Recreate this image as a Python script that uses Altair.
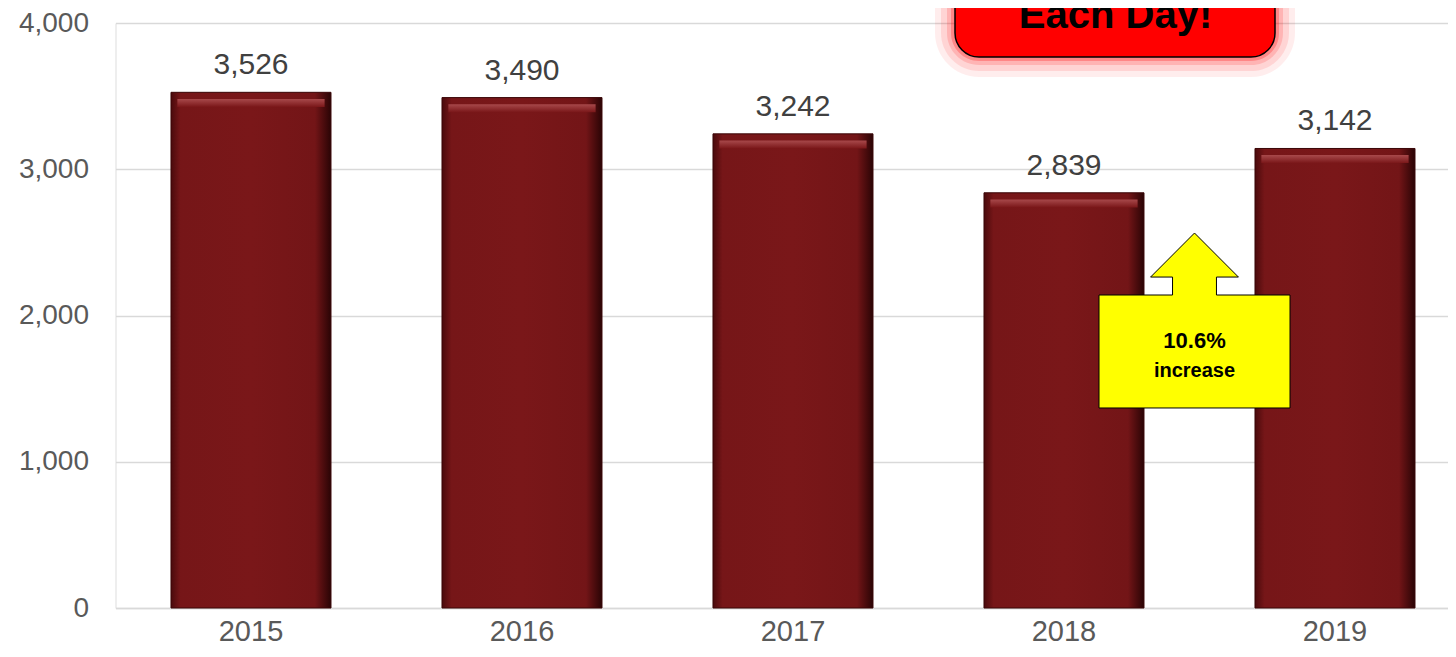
import altair as alt
import pandas as pd

# ---- data ----
years = ["2015", "2016", "2017", "2018", "2019"]
counts = [3526, 3490, 3242, 2839, 3142]
y_ticks = [0, 1000, 2000, 3000, 4000]
banner_text = ["Each Day!"]
callout_lines = ["10.6%", "increase"]

df = pd.DataFrame({"year": years, "count": counts})
FONT = "Liberation Sans"
LABEL_GRAY = "#595959"

# plot area origin in page pixels (svg sits at page offset 8,8)
PX0, PY0 = 115.5, 23

x_scale = alt.Scale(paddingInner=0.4096, paddingOuter=0.1633, align=0.627)
x_enc = alt.X("year:N", sort=years, scale=x_scale,
              axis=alt.Axis(title=None, labelAngle=0, ticks=False, domain=True,
                            domainColor="#d9d9d9", domainWidth=1.5,
                            labelFont=FONT, labelFontSize=29, labelColor=LABEL_GRAY,
                            labelPadding=9, grid=False))
y_enc = alt.Y("count:Q", scale=alt.Scale(domain=[0, 4000], nice=False),
              axis=alt.Axis(title=None, values=y_ticks, format=",.0f", ticks=False,
                            domain=False, grid=True, gridColor="#d9d9d9",
                            gridWidth=1.5, labelFont=FONT, labelFontSize=28,
                            labelColor=LABEL_GRAY, labelPadding=27))

bar_fill = alt.Gradient(
    gradient="linear", x1=0, x2=1, y1=0, y2=0,
    stops=[alt.GradientStop(color="#4a0a0c", offset=0),
           alt.GradientStop(color="#761618", offset=0.06),
           alt.GradientStop(color="#7a1719", offset=0.5),
           alt.GradientStop(color="#731517", offset=0.9),
           alt.GradientStop(color="#2a0405", offset=1)])

bars = alt.Chart(df).mark_bar(color=bar_fill, stroke="#3a0607", strokeWidth=1).encode(
    x=x_enc, y=y_enc)

hl_fill = alt.Gradient(
    gradient="linear", x1=0, x2=0, y1=0, y2=1,
    stops=[alt.GradientStop(color="#a8494b", offset=0),
           alt.GradientStop(color="#7a1719", offset=1)])
bevel = alt.Chart(df).transform_calculate(
    top="datum.count - 45", bot="datum.count - 100"
).mark_bar(color=hl_fill, width={"band": 0.92}).encode(
    x=alt.X("year:N", sort=years), y="top:Q", y2="bot:Q")

labels = alt.Chart(df).mark_text(font=FONT, fontSize=30, color="#404040",
                                 baseline="alphabetic", dy=-18).encode(
    x=alt.X("year:N", sort=years), y="count:Q", text=alt.Text("count:Q", format=","))

one = pd.DataFrame({"t": banner_text})

glow_layers = []
for pad, op in [(20, 0.07), (14, 0.10), (8, 0.15), (4, 0.25)]:
    glow_layers.append(
        alt.Chart(one).mark_rect(color="#ff0000", opacity=op, cornerRadius=24 + pad).encode(
            x=alt.value(955 - PX0 - pad), x2=alt.value(1275 - PX0 + pad),
            y=alt.value(-60), y2=alt.value(57 - PY0 + pad)))

red_box = alt.Chart(one).mark_rect(color="#ff0000", stroke="#000000", strokeWidth=1.5,
                                   cornerRadius=24).encode(
    x=alt.value(955 - PX0), x2=alt.value(1275 - PX0), y=alt.value(-60),
    y2=alt.value(57 - PY0))

red_text = alt.Chart(one).mark_text(font=FONT, fontSize=40, fontWeight="bold",
                                    color="#000000", baseline="alphabetic").encode(
    x=alt.value(1115.5 - PX0), y=alt.value(28 - PY0), text="t:N")

arrow_path = ("M -1 -0.267 L -0.23 -0.267 L -0.23 -0.455 L -0.46 -0.455 L 0 -0.916 "
              "L 0.46 -0.455 L 0.23 -0.455 L 0.23 -0.267 L 1 -0.267 L 1 0.916 "
              "L -1 0.916 Z")
callout = alt.Chart(one).mark_point(shape=arrow_path, filled=True, fill="#ffff00",
                                    stroke="#000000", strokeWidth=1, opacity=1,
                                    size=191 * 191).encode(
    x=alt.value(1194.5 - PX0), y=alt.value(320.5 - PY0))

ct = pd.DataFrame({"t": callout_lines})
callout_text1 = alt.Chart(ct.iloc[[0]]).mark_text(
    font=FONT, fontSize=22, fontWeight="bold", color="#000000", baseline="alphabetic").encode(
    x=alt.value(1194.5 - PX0), y=alt.value(347.7 - PY0), text="t:N")
callout_text2 = alt.Chart(ct.iloc[[1]]).mark_text(
    font=FONT, fontSize=20, fontWeight="bold", color="#000000", baseline="alphabetic").encode(
    x=alt.value(1194.5 - PX0), y=alt.value(376.7 - PY0), text="t:N")

chart = alt.layer(bars, bevel, labels, *glow_layers, red_box, red_text, callout,
                  callout_text1, callout_text2).properties(
    width=1332.5, height=585,
    autosize=alt.AutoSizeParams(type="none"),
    padding={"left": 107.5, "top": 15, "right": 0, "bottom": 41},
).configure_view(stroke=None).configure(background="#ffffff")

chart.save("out.html", embed_options={"renderer": "svg", "actions": False})
